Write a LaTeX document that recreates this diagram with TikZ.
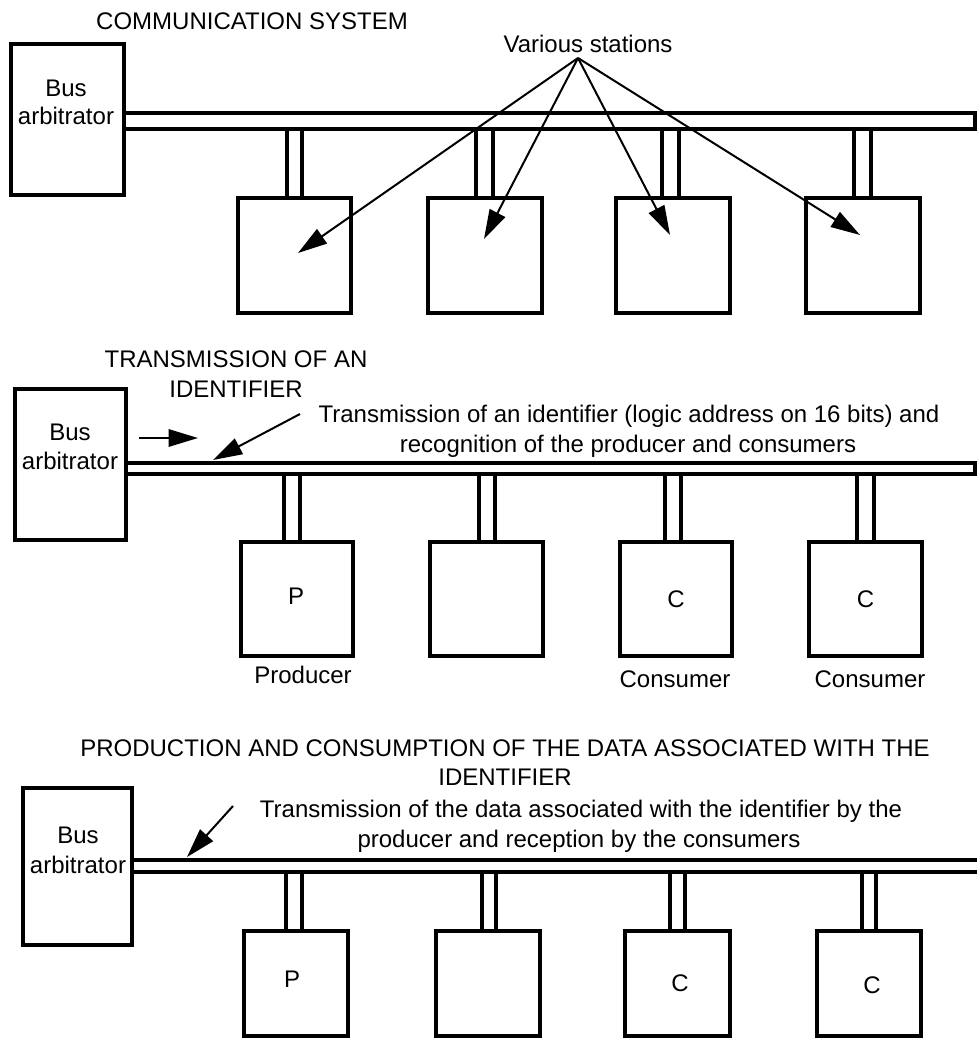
\documentclass[tikz,border=0pt]{standalone}
\usepackage{fontspec}
\setmainfont{Liberation Sans}
\usetikzlibrary{arrows.meta,fit}
\begin{document}
\begin{tikzpicture}[x=0.75pt,y=-0.75pt,
  heavy/.style={draw, line width=3pt},
  box/.style={heavy, inner sep=0pt},
  txt/.style={font=\fontsize{18}{22.5}\selectfont, inner sep=0pt, anchor=base},
  pointer/.style={line width=1.5pt, -{Triangle[length=22pt,width=13pt]}},
]
\useasboundingbox (0,0) rectangle (977,1038);

% ---------- Communication system ----------
\node[txt] (title1) at (252,30) {COMMUNICATION SYSTEM};
\node[box, fit={(124,113) (975,129)}] (bus1) {};
\node[box, fit={(11,44) (124,195)}] (arb1) {};
\node[txt] (arb1a) at (66,97) {Bus};
\node[txt] (arb1b) at (66,125) {arbitrator};
\node[box, fit={(287,129) (302,198)}] (st11) {};
\node[box, fit={(476,129) (493,198)}] (st12) {};
\node[box, fit={(662,129) (679,198)}] (st13) {};
\node[box, fit={(854,129) (871,198)}] (st14) {};
\node[box, fit={(238,198) (351,313)}] (s11) {};
\node[box, fit={(428,198) (542,313)}] (s12) {};
\node[box, fit={(616,198) (730,313)}] (s13) {};
\node[box, fit={(806,198) (920,313)}] (s14) {};
\node[txt] (vs) at (588,53) {Various stations};
\coordinate (vsfoot) at (578,58);
\coordinate (t11) at (298,253);
\coordinate (t12) at (484,239);
\coordinate (t13) at (670,235);
\coordinate (t14) at (860,235);
\foreach \t in {t11,t12,t13,t14}
  \draw[pointer] (vsfoot) -- (\t);

% ---------- Transmission of an identifier ----------
\node[txt] (title2a) at (236,367) {TRANSMISSION OF AN};
\node[txt] (title2b) at (236,397) {IDENTIFIER};
\node[box, fit={(126,462.5) (975,473.5)}] (bus2) {};
\node[box, fit={(15,389) (126,540)}] (arb2) {};
\node[txt] (arb2a) at (70,440) {Bus};
\node[txt] (arb2b) at (70,469) {arbitrator};
\node[box, fit={(284,473.5) (300,542)}] (st21) {};
\node[box, fit={(479,473.5) (495,542)}] (st22) {};
\node[box, fit={(665,473.5) (681,542)}] (st23) {};
\node[box, fit={(857,473.5) (874,542)}] (st24) {};
\node[box, fit={(241,542) (353,656)}] (s21) {};
\node[box, fit={(430,542) (543,656)}] (s22) {};
\node[box, fit={(620,542) (732,656)}] (s23) {};
\node[box, fit={(809,542) (922,656)}] (s24) {};
\node[txt] (p2) at (296,604) {P};
\node[txt] (c23) at (676,607) {C};
\node[txt] (c24) at (865.5,607) {C};
\node[txt] (prod2) at (303,683) {Producer};
\node[txt] (cons23) at (675,687) {Consumer};
\node[txt] (cons24) at (870,687) {Consumer};
\coordinate (go2s) at (139,438);
\coordinate (go2e) at (198,438);
\draw[pointer] (go2s) -- (go2e);
\node[txt] (lab2a) at (629,422) {Transmission of an identifier (logic address on 16 bits) and};
\node[txt] (lab2b) at (628,452) {recognition of the producer and consumers};
\coordinate (lead2s) at (300,414);
\coordinate (lead2e) at (213,460);
\draw[pointer] (lead2s) -- (lead2e);

% ---------- Production and consumption ----------
\node[txt] (title3a) at (505,756) {PRODUCTION AND CONSUMPTION OF THE DATA ASSOCIATED WITH THE};
\node[txt] (title3b) at (505,785) {IDENTIFIER};
\coordinate (bus3tl) at (132,860);
\coordinate (bus3tr) at (977,860);
\coordinate (bus3bl) at (132,872);
\coordinate (bus3br) at (977,872);
\draw[heavy] (bus3tl) -- (bus3tr);
\draw[heavy] (bus3bl) -- (bus3br);
\node[box, fit={(23,788) (132,945)}] (arb3) {};
\node[txt] (arb3a) at (78,843) {Bus};
\node[txt] (arb3b) at (78,873) {arbitrator};
\node[box, fit={(286,872) (302,931)}] (st31) {};
\node[box, fit={(482,872) (496,931)}] (st32) {};
\node[box, fit={(670,872) (685,931)}] (st33) {};
\node[box, fit={(862,872) (876,931)}] (st34) {};
\node[box, fit={(244,931) (348,1036)}] (s31) {};
\node[box, fit={(436,931) (540,1036)}] (s32) {};
\node[box, fit={(625,931) (730,1036)}] (s33) {};
\node[box, fit={(817,931) (921,1036)}] (s34) {};
\node[txt] (p3) at (292,987) {P};
\node[txt] (c33) at (680,991) {C};
\node[txt] (c34) at (872,993) {C};
\node[txt] (lab3a) at (581,817) {Transmission of the data associated with the identifier by the};
\node[txt] (lab3b) at (579,847) {producer and reception by the consumers};
\coordinate (lead3s) at (233,806);
\coordinate (lead3e) at (187,857);
\draw[pointer] (lead3s) -- (lead3e);
\end{tikzpicture}
\end{document}
